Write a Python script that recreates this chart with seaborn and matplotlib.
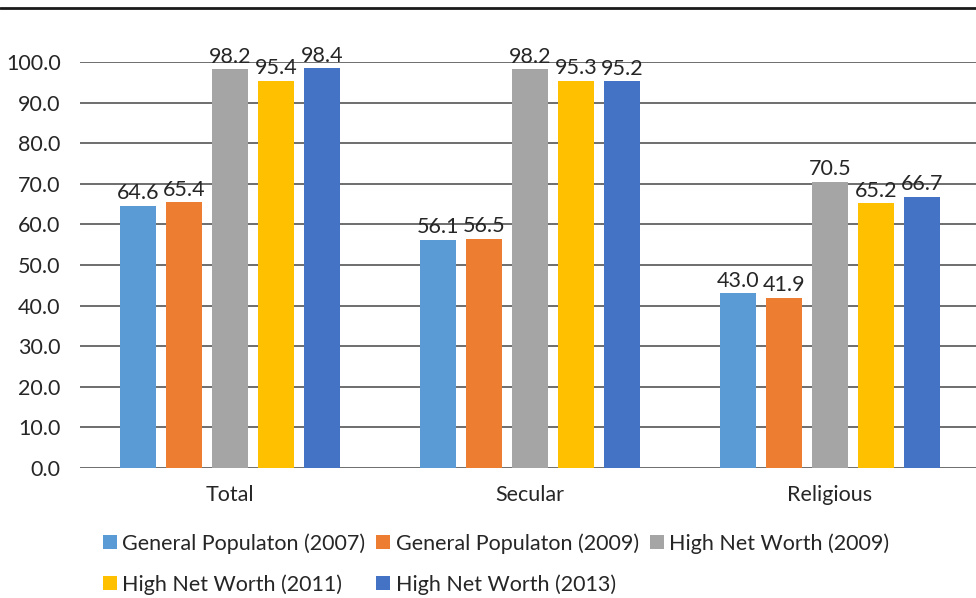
import matplotlib
matplotlib.use("Agg")
import matplotlib.pyplot as plt
from matplotlib.lines import Line2D
import seaborn as sns
import pandas as pd

categories = ["Total", "Secular", "Religious"]
series_names = [
    "General Populaton (2007)",
    "General Populaton (2009)",
    "High Net Worth (2009)",
    "High Net Worth (2011)",
    "High Net Worth (2013)",
]
gen_pop_2007 = [64.6, 56.1, 43.0]
gen_pop_2009 = [65.4, 56.5, 41.9]
hnw_2009 = [98.2, 98.2, 70.5]
hnw_2011 = [95.4, 95.3, 65.2]
hnw_2013 = [98.4, 95.2, 66.7]
y_ticks = [0, 10, 20, 30, 40, 50, 60, 70, 80, 90, 100]

colors = ["#5B9BD5", "#ED7D31", "#A5A5A5", "#FFC000", "#4472C4"]
text_color = "#262626"
fs = 15.5

rows = []
for name, vals in zip(series_names,
                      [gen_pop_2007, gen_pop_2009, hnw_2009, hnw_2011, hnw_2013]):
    for cat, v in zip(categories, vals):
        rows.append({"category": cat, "series": name, "value": v})
df = pd.DataFrame(rows)

sns.set_theme(style="white")
plt.rcParams["font.family"] = ["Lato", "DejaVu Sans"]

fig = plt.figure(figsize=(9.76, 5.98), dpi=100)
ax = fig.add_axes([80 / 976, 1 - 468 / 598, 900 / 976, (468 - 62) / 598])

sns.barplot(data=df, x="category", y="value", hue="series",
            order=categories, hue_order=series_names, palette=colors,
            width=0.7667, gap=0.196, saturation=1, errorbar=None, ax=ax,
            zorder=3, linewidth=0)

ax.set_ylim(0, 100)
ax.set_xlim(-0.5, 2.5)
ax.set_yticks(y_ticks)
ax.set_yticklabels([f"{t:.1f}" for t in y_ticks])
ax.yaxis.grid(True, color="#555555", linewidth=1.2, zorder=0)
ax.set_axisbelow(True)
for s in ax.spines.values():
    s.set_visible(False)
ax.tick_params(axis="both", length=0, labelsize=fs, colors=text_color)
ax.tick_params(axis="y", pad=14)
ax.tick_params(axis="x", pad=12)
ax.set_xlabel("")
ax.set_ylabel("")

for cont in ax.containers:
    ax.bar_label(cont, fmt="%.1f", padding=2, fontsize=fs, color=text_color)

handles, labels = ax.get_legend_handles_labels()
ax.get_legend().remove()
order = [0, 3, 1, 4, 2]
fig.legend([handles[i] for i in order], [labels[i] for i in order],
           loc="upper left", bbox_to_anchor=(103 / 976, 1 - 533 / 598),
           ncol=3, frameon=False, fontsize=fs, labelcolor=text_color,
           handlelength=0.65, handleheight=0.65, handletextpad=0.25,
           columnspacing=0.5, labelspacing=0.95, borderaxespad=0,
           borderpad=0)

fig.add_artist(Line2D([0, 1], [1 - 8 / 598, 1 - 8 / 598], color="#1a1a1a",
                      linewidth=2, transform=fig.transFigure))

fig.savefig("out.png", dpi=100)
